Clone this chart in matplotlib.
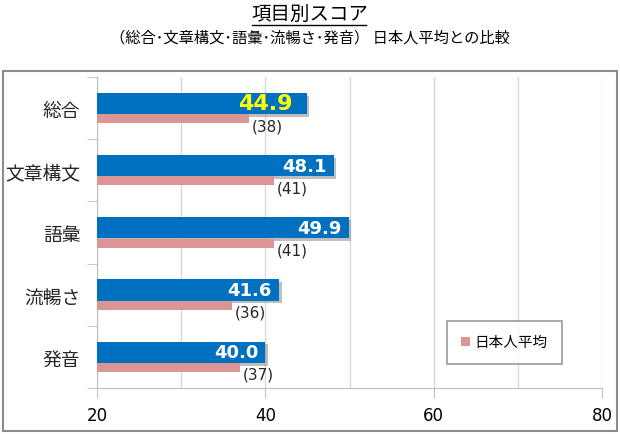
import matplotlib.pyplot as plt
import matplotlib.patheffects as pe
from matplotlib.lines import Line2D
from matplotlib.patches import Rectangle

plt.rcParams['font.family'] = ['DejaVu Sans', 'Noto Sans CJK JP']

categories = ["総合", "文章構文", "語彙", "流暢さ", "発音"]
scores = [44.9, 48.1, 49.9, 41.6, 40.0]
japan_avg = [38, 41, 41, 36, 37]
xticks = [20, 40, 60, 80]

blue = "#0070C0"
pink = "#DA9694"
jp = ['Noto Sans CJK JP', 'DejaVu Sans']

fig = plt.figure(figsize=(6.2, 4.35), dpi=100)
ax = fig.add_axes([97 / 620, 1 - 389 / 435, 505 / 620, 311 / 435])

pos = list(range(len(categories)))
shadow = [pe.SimplePatchShadow(offset=(2, -2), shadow_rgbFace="#808080", alpha=0.5), pe.Normal()]
ax.barh([p - 0.075 for p in pos], scores, height=0.34, color=blue, path_effects=shadow, zorder=3)
ax.barh([p + 0.17 for p in pos], japan_avg, height=0.145, color=pink, zorder=3, label="日本人平均")

for i, (s, a) in enumerate(zip(scores, japan_avg)):
    if i == 0:
        ax.annotate(f"{s:.1f}", (s, i - 0.075), xytext=(-10, 0), textcoords="offset points",
                    ha="right", va="center", color="#FFFF00", fontsize=16, fontweight="bold", zorder=4)
    else:
        ax.annotate(f"{s:.1f}", (s, i - 0.075), xytext=(-5, 0), textcoords="offset points",
                    ha="right", va="center", color="white", fontsize=13, fontweight="bold", zorder=4)
    ax.annotate(f"({a})", (a, i + 0.28), xytext=(2, 0), textcoords="offset points",
                ha="left", va="center", color="#262626", fontsize=11, zorder=4)

ax.set_xlim(20, 80)
ax.set_ylim(4.5, -0.5)
ax.set_xticks(xticks)
ax.set_xticks([30, 50, 70], minor=True)
ax.tick_params(axis="x", which="major", length=7, color="#BFBFBF", labelsize=12, pad=6, labelcolor="#000000")
ax.tick_params(axis="x", which="minor", length=0)
ax.grid(axis="x", which="both", color="#D9D9D9", linewidth=1, zorder=0)

ax.set_yticks(pos)
ax.set_yticklabels(categories, fontsize=13.5, family=jp, color="#262626")
ax.set_yticks([p - 0.5 for p in pos] + [4.5], minor=True)
ax.tick_params(axis="y", which="major", length=0, pad=12)
ax.tick_params(axis="y", which="minor", length=7, color="#BFBFBF")

for side in ["top", "right"]:
    ax.spines[side].set_visible(False)
ax.spines["left"].set_color("#BFBFBF")
ax.spines["bottom"].set_color("#BFBFBF")

leg = ax.legend(loc="lower right", bbox_to_anchor=(465 / 505, 24 / 311), prop={'family': jp, 'size': 10.5},
                frameon=True, fancybox=False, edgecolor="#808080", handlelength=0.6, handleheight=0.6,
                handletextpad=0.3, borderpad=1.0, borderaxespad=0)
leg.get_frame().set_linewidth(1.2)

fig.add_artist(Rectangle((3 / 620, 1 - 432 / 435), 614 / 620, 360 / 435, transform=fig.transFigure,
                         fill=False, edgecolor="#8C8C8C", linewidth=1.5))

fig.text(0.5, 1 - 14 / 435, "項目別スコア", ha="center", va="center", fontsize=14, family=jp, color="#000000")
fig.add_artist(Line2D([252 / 620, 366 / 620], [1 - 26 / 435, 1 - 26 / 435], transform=fig.transFigure,
                      color="#000000", linewidth=1))
fig.text(0.5, 1 - 38 / 435, "（総合･文章構文･語彙･流暢さ･発音） 日本人平均との比較", ha="center", va="center",
         fontsize=11, family=jp, color="#000000")

fig.savefig("out.png", dpi=100)
